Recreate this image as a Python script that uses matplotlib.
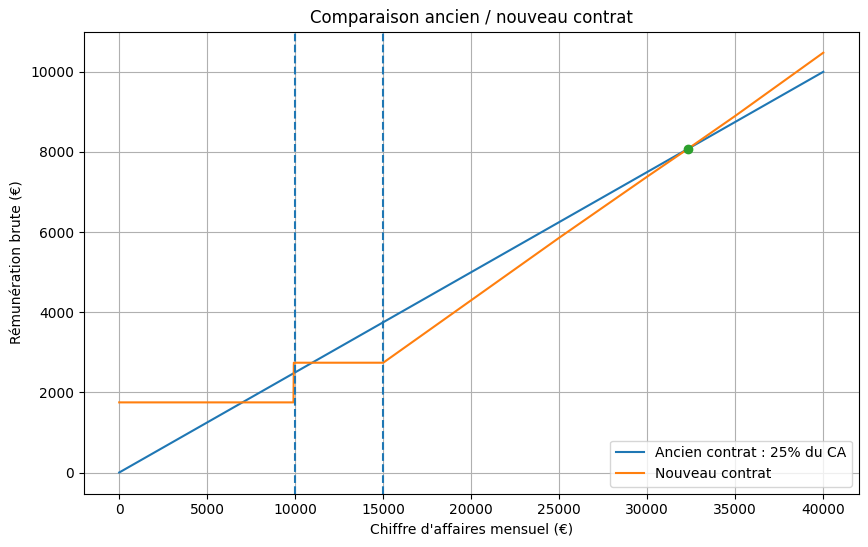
import matplotlib
matplotlib.use("Agg")
import matplotlib.pyplot as plt

# Data
ca_old = [0, 40000]
pay_old = [0, 10000]

ca_new = [0, 9900, 9920, 15000, 20000, 25000, 30000, 32300, 35000, 40000]
pay_new = [1750, 1750, 2740, 2740, 4300, 5860, 7385, 8075, 8900, 10477]

thresholds = [10000, 15000]
cross_x = [32300]
cross_y = [8075]

fig = plt.figure(figsize=(8.68, 5.47), dpi=100)
ax = fig.add_axes([84 / 868, 1 - 493.5 / 547, (858.5 - 84) / 868, (493.5 - 31.7) / 547])

ax.plot(ca_old, pay_old, label="Ancien contrat : 25% du CA")
ax.plot(ca_new, pay_new, label="Nouveau contrat")
for t in thresholds:
    ax.axvline(t, linestyle="--", color="C0")
ax.plot(cross_x, cross_y, "o", color="C2")

ax.set_title("Comparaison ancien / nouveau contrat")
ax.set_xlabel("Chiffre d'affaires mensuel (€)")
ax.set_ylabel("Rémunération brute (€)")
ax.grid(True)
ax.legend(loc="lower right")

fig.savefig("out.png", dpi=100)
